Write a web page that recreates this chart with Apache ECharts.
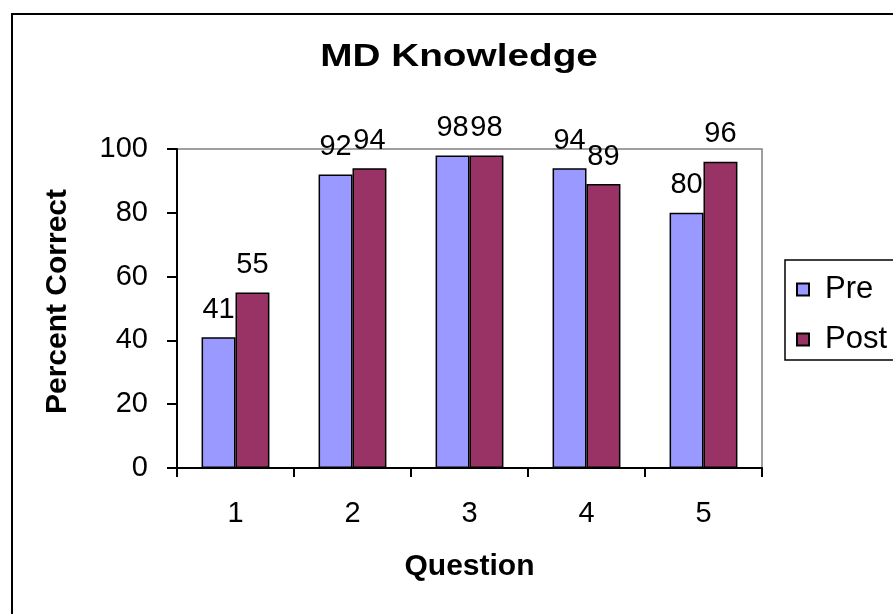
<!DOCTYPE html>
<html>
<head>
<meta charset="utf-8">
<title>MD Knowledge</title>
<script src="https://cdn.jsdelivr.net/npm/echarts@6/dist/echarts.min.js"></script>
<style>
  html, body { margin: 0; padding: 0; background: #fff; }
  #chart { width: 893px; height: 614px; }
</style>
</head>
<body>
<div id="chart"></div>
<script>
// Survey results: share of correct answers per question, before and after
const questions = ['1', '2', '3', '4', '5'];
const preScores = [41, 92, 98, 94, 80];
const postScores = [55, 94, 98, 89, 96];
const yTicks = { min: 0, max: 100, step: 20 };

const FONT = '"Liberation Sans", Arial, Helvetica, sans-serif';

const chart = echarts.init(document.getElementById('chart'), null, { renderer: 'canvas' });

const valueLabel = {
  show: true,
  position: 'top',
  distance: 13,
  color: '#000',
  fontFamily: FONT,
  fontSize: 29
};

chart.setOption({
  backgroundColor: '#ffffff',
  animation: false,
  graphic: [
    {
      // outer chart frame
      type: 'rect',
      shape: { x: 12, y: 14, width: 900, height: 620 },
      style: { fill: 'none', stroke: '#000', lineWidth: 2 },
      silent: true,
      z: 100
    },
    {
      // chart heading, set in a wide bold face
      type: 'text',
      x: 459,
      y: 57,
      scaleX: 1.25,
      style: {
        text: 'MD Knowledge',
        fill: '#000',
        font: 'bold 31px ' + FONT,
        align: 'center',
        verticalAlign: 'middle'
      },
      silent: true
    }
  ],
  legend: {
    orient: 'vertical',
    left: 785,
    top: 260,
    padding: [14, 40, 5, 11],
    itemGap: 19,
    itemWidth: 12,
    itemHeight: 12,
    icon: 'rect',
    borderColor: '#000',
    borderWidth: 1.5,
    textStyle: { fontFamily: FONT, fontSize: 31, color: '#000', padding: [0, 0, 0, 11] },
    data: ['Pre', 'Post']
  },
  grid: {
    left: 177,
    top: 149,
    right: 131,
    bottom: 146,
    show: true,
    borderColor: '#808080',
    borderWidth: 1.5,
    backgroundColor: '#fff'
  },
  xAxis: {
    type: 'category',
    data: questions,
    name: 'Question',
    nameLocation: 'middle',
    nameGap: 84,
    nameTextStyle: { fontFamily: FONT, fontWeight: 'bold', fontSize: 30, color: '#000' },
    axisLine: { lineStyle: { color: '#000', width: 2 } },
    axisTick: { show: true, length: 9, lineStyle: { color: '#000', width: 2 } },
    axisLabel: { margin: 31, fontFamily: FONT, fontSize: 29, color: '#000' },
    splitLine: { show: false }
  },
  yAxis: {
    type: 'value',
    min: yTicks.min,
    max: yTicks.max,
    interval: yTicks.step,
    name: 'Percent Correct',
    nameLocation: 'middle',
    nameGap: 104,
    nameRotate: 90,
    nameTextStyle: { fontFamily: FONT, fontWeight: 'bold', fontSize: 30, color: '#000', padding: [0, 0, 0, 14] },
    axisLine: { show: true, lineStyle: { color: '#000', width: 2 } },
    axisTick: { show: true, length: 10, lineStyle: { color: '#000', width: 2 } },
    axisLabel: { margin: 29, fontFamily: FONT, fontSize: 29, color: '#000' },
    splitLine: { show: false }
  },
  series: [
    {
      name: 'Pre',
      type: 'bar',
      data: preScores,
      barGap: '0%',
      barCategoryGap: '42%',
      itemStyle: { color: '#9999FF', borderColor: '#000', borderWidth: 1.5 },
      label: valueLabel
    },
    {
      name: 'Post',
      type: 'bar',
      data: postScores,
      barGap: '0%',
      barCategoryGap: '42%',
      itemStyle: { color: '#993366', borderColor: '#000', borderWidth: 1.5 },
      label: valueLabel
    }
  ]
});
</script>
</body>
</html>
